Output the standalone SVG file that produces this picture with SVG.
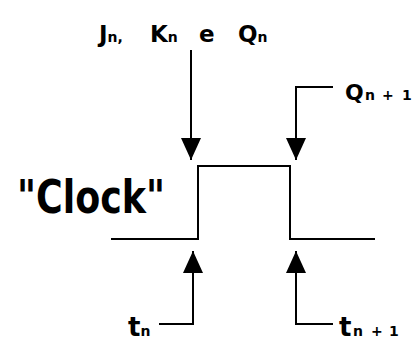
<svg xmlns="http://www.w3.org/2000/svg" width="412" height="343" viewBox="0 0 412 343">
<style>
.ln{fill:none;stroke:#000;stroke-width:2}
.t{font-family:"DejaVu Sans","Liberation Sans",sans-serif;font-weight:bold;fill:#000}
.s{font-size:14px}
</style>
<defs>
<marker id="ah2" viewBox="0 0 22 20" refX="22" refY="10" markerWidth="22" markerHeight="20" markerUnits="userSpaceOnUse" orient="auto">
<path d="M0,0 L22,10 L0,20 z" fill="#000"/>
</marker>
</defs>
<g id="clock">
<path class="ln" d="M111,239 H198 V166 H290 V239 H375"/>
<text class="t" x="17" y="213" font-size="46" textLength="148" lengthAdjust="spacingAndGlyphs">"Clock"</text>
</g>
<g id="label-jkq">
<text class="t" y="42" font-size="23"><tspan x="99">J<tspan class="s">n,</tspan></tspan><tspan x="150">K<tspan class="s">n</tspan></tspan><tspan x="199">e</tspan><tspan x="238">Q<tspan class="s">n</tspan></tspan></text>
</g>
<g id="label-qn1">
<text class="t" y="100" font-size="22"><tspan x="345">Q</tspan><tspan class="s" x="365">n</tspan><tspan class="s" x="382">+</tspan><tspan class="s" x="402">1</tspan></text>
</g>
<g id="label-tn">
<text class="t" x="128" y="336" font-size="26">t<tspan class="s">n</tspan></text>
</g>
<g id="label-tn1">
<text class="t" y="336" font-size="26"><tspan x="339">t</tspan><tspan class="s" x="353">n</tspan><tspan class="s" x="371">+</tspan><tspan class="s" x="389">1</tspan></text>
</g>
<g id="connectors">
<path class="ln" d="M191,50 V160" marker-end="url(#ah2)"/>
<path class="ln" d="M333,87 H296 V160" marker-end="url(#ah2)"/>
<path class="ln" d="M159,324 H193 V251" marker-end="url(#ah2)"/>
<path class="ln" d="M333,324 H296 V251" marker-end="url(#ah2)"/>
</g>
</svg>
